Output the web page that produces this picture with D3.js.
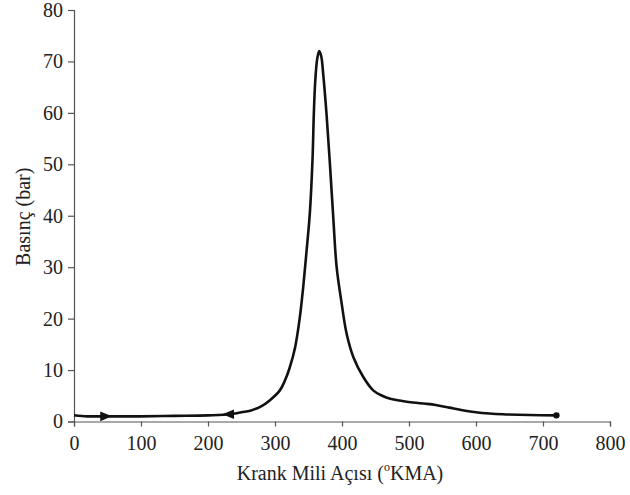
<!DOCTYPE html>
<html>
<head>
<meta charset="utf-8">
<script src="https://cdn.jsdelivr.net/npm/d3@7"></script>
<style>
  body { margin: 0; background: #fff; }
  svg text { font-family: "Liberation Serif", "Times New Roman", serif; fill: #222; }
</style>
</head>
<body>
<div id="chart"></div>
<script>
// krank mili açısı (°KMA) ve basınç (bar)
const angles = [0, 20, 40, 60, 100, 150, 200, 233, 250, 263, 280, 292, 307, 315, 322, 330, 337, 342, 347, 352,
    356, 358, 360, 363, 366, 369, 372, 377, 382, 387, 392, 399, 407, 417, 432, 447, 460, 472, 490,
    506, 525, 540, 560, 580, 600, 620, 640, 680, 720]
const pressures = [1.2, 1.0, 1.0, 1.0, 1.0, 1.1, 1.2, 1.4, 1.8, 2.1, 3.0, 4.1, 6.0, 8.0, 10.5, 14.4, 20.2, 26, 33, 40.5,
    51, 60, 66, 70.5, 72, 71, 67.5, 59.6, 50, 39.6, 30, 23.4, 17, 12.5, 8.6, 6.0, 5.0, 4.4, 4.0,
    3.7, 3.45, 3.2, 2.7, 2.2, 1.8, 1.55, 1.4, 1.25, 1.2]
// eğri üzerindeki kalın işaretler
const markAngles = [45, 233]
const markDirs = [90, -90]
const xTicks = [0, 100, 200, 300, 400, 500, 600, 700, 800]
const yTicks = [0, 10, 20, 30, 40, 50, 60, 70, 80]

const width = 630, height = 495

const svg = d3.select("#chart").append("svg")
    .attr("width", width)
    .attr("height", height)

const x = d3.scaleLinear().domain([0, 800]).range([74, 610])
const y = d3.scaleLinear().domain([0, 80]).range([421.5, 10])

// eksenler
const xAxis = svg.append("g")
    .attr("transform", `translate(0,${y(0)})`)
    .call(d3.axisBottom(x).tickValues(xTicks).tickSize(5).tickPadding(9))
const yAxis = svg.append("g")
    .attr("transform", `translate(${x(0)},0)`)
    .call(d3.axisLeft(y).tickValues(yTicks).tickSize(6).tickPadding(5))

xAxis.selectAll("path, line").attr("stroke", "#555").attr("stroke-width", 1.2)
yAxis.selectAll("path, line").attr("stroke", "#555").attr("stroke-width", 1.2)
svg.selectAll(".tick text")
    .style("font-family", "'Liberation Serif', serif")
    .style("font-size", "20px")
    .attr("fill", "#222")

// basınç eğrisi
const data = angles.map((a, i) => [a, pressures[i]])
const line = d3.line().x(d => x(d[0])).y(d => y(d[1])).curve(d3.curveCatmullRom.alpha(0.5))
svg.append("path")
    .datum(data)
    .attr("fill", "none")
    .attr("stroke", "#111")
    .attr("stroke-width", 2.6)
    .attr("stroke-linejoin", "round")
    .attr("d", line)

// ok başı gibi işaretler
const pAt = d3.scaleLinear().domain(angles).range(pressures)
svg.selectAll(".mark")
    .data(markAngles)
    .join("path")
    .attr("class", "mark")
    .attr("d", d3.symbol(d3.symbolTriangle, 40))
    .attr("transform", (d, i) => `translate(${x(d)},${y(pAt(d))}) rotate(${markDirs[i]}) scale(1,1.4)`)
    .attr("fill", "#111")

// son nokta
svg.append("circle")
    .attr("cx", x(angles[angles.length - 1]))
    .attr("cy", y(pressures[pressures.length - 1]))
    .attr("r", 3.2)
    .attr("fill", "#111")

// eksen başlıkları
const xLabel = svg.append("text")
    .attr("x", x(400) - 2)
    .attr("y", 480)
    .attr("text-anchor", "middle")
    .style("font-size", "20px")
xLabel.append("tspan").text("Krank Mili Açısı (")
xLabel.append("tspan").text("o").attr("dy", -9).style("font-size", "12px")
xLabel.append("tspan").text("KMA)").attr("dy", 9)

svg.append("text")
    .attr("transform", `translate(30,${y(40) + 1}) rotate(-90)`)
    .attr("text-anchor", "middle")
    .style("font-size", "20px")
    .text("Basınç (bar)")
</script>
</body>
</html>
